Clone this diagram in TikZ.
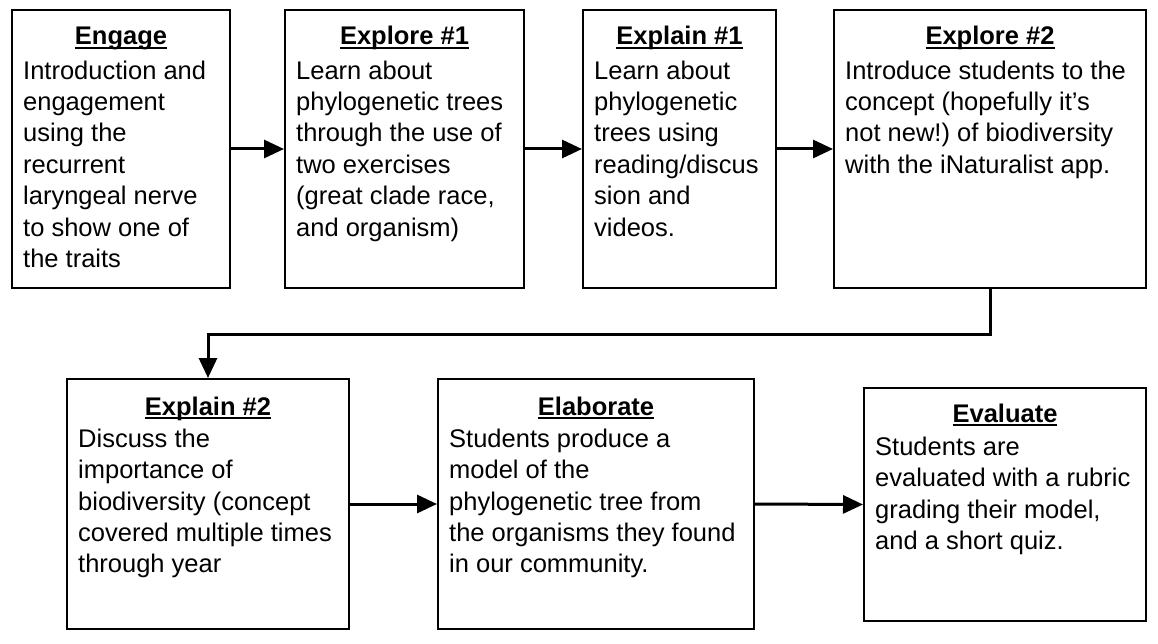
\documentclass[tikz,border=0pt]{standalone}
\usepackage{fontspec}
\setmainfont{Liberation Sans}
\usetikzlibrary{arrows.meta}
\newcommand\ttlul[1]{\setbox0\hbox{#1}\rlap{\rule[-4pt]{\wd0}{1.8pt}}\box0}
\newcommand\bstrut{\rule{0pt}{20pt}}
\begin{document}
\begin{tikzpicture}[x=1pt,y=-1pt,
  box/.style={draw=black, line width=2pt, rectangle, inner sep=0pt, anchor=north west},
  ttl/.style={anchor=base, inner sep=0pt, font=\fontsize{25.5}{31.4}\selectfont\bfseries},
  body/.style={anchor=north west, inner sep=0pt, align=left, font=\fontsize{25.5}{31.4}\selectfont},
  conn/.style={line width=3pt, -{Triangle[length=20pt,width=18pt]}}]
\useasboundingbox (0,0) rectangle (1158,644);
\node[box, minimum width=218pt, minimum height=278pt] (b1) at (11,9) {};
\node[box, minimum width=239pt, minimum height=278pt] (b2) at (284,9) {};
\node[box, minimum width=193pt, minimum height=278pt] (b3) at (582,9) {};
\node[box, minimum width=312pt, minimum height=278pt] (b4) at (833,9) {};
\node[box, minimum width=282pt, minimum height=250pt] (b5) at (66,378) {};
\node[box, minimum width=316pt, minimum height=250pt] (b6) at (437,378) {};
\node[box, minimum width=282pt, minimum height=233pt] (b7) at (863,387) {};

\node[ttl] (t1) at ([yshift=-36pt]b1.north) {\ttlul{Engage}};
\node[ttl] (t2) at ([yshift=-36pt]b2.north) {\ttlul{Explore \#1}};
\node[ttl] (t3) at ([yshift=-36pt]b3.north) {\ttlul{Explain \#1}};
\node[ttl] (t4) at ([yshift=-36pt]b4.north) {\ttlul{Explore \#2}};
\node[ttl] (t5) at ([yshift=-37pt]b5.north) {\ttlul{Explain \#2}};
\node[ttl] (t6) at ([yshift=-37pt]b6.north) {\ttlul{Elaborate}};
\node[ttl] (t7) at ([yshift=-35pt]b7.north) {\ttlul{Evaluate}};

\node[body] (x1) at ([shift={(12pt,-50pt)}]b1.north west) {\bstrut Introduction and\\engagement\\using the\\recurrent\\laryngeal nerve\\to show one of\\the traits};
\node[body] (x2) at ([shift={(12pt,-50pt)}]b2.north west) {\bstrut Learn about\\phylogenetic trees\\through the use of\\two exercises\\(great clade race,\\and organism)};
\node[body] (x3) at ([shift={(12pt,-50pt)}]b3.north west) {\bstrut Learn about\\phylogenetic\\trees using\\reading/discus\\sion and\\videos.};
\node[body] (x4) at ([shift={(12pt,-50pt)}]b4.north west) {\bstrut Introduce students to the\\concept (hopefully it’s\\not new!)\ of biodiversity\\with the iNaturalist app.};
\node[body] (x5) at ([shift={(12pt,-49pt)}]b5.north west) {\bstrut Discuss the\\importance of\\biodiversity (concept\\covered multiple times\\through year};
\node[body] (x6) at ([shift={(12pt,-49pt)}]b6.north west) {\bstrut Students produce a\\model of the\\phylogenetic tree from\\the organisms they found\\in our community.};
\node[body] (x7) at ([shift={(12pt,-48pt)}]b7.north west) {\bstrut Students are\\evaluated with a rubric\\grading their model,\\and a short quiz.};

\draw[conn] (b1.east) -- (b2.west);
\draw[conn] (b2.east) -- (b3.west);
\draw[conn] (b3.east) -- (b4.west);
\draw[conn] (b4.south) -- ++(0,45) -| (b5.north);
\draw[conn] (b5.east) -- (b6.west);
\draw[conn] (b6.east) -- (b7.west);
\end{tikzpicture}
\end{document}
